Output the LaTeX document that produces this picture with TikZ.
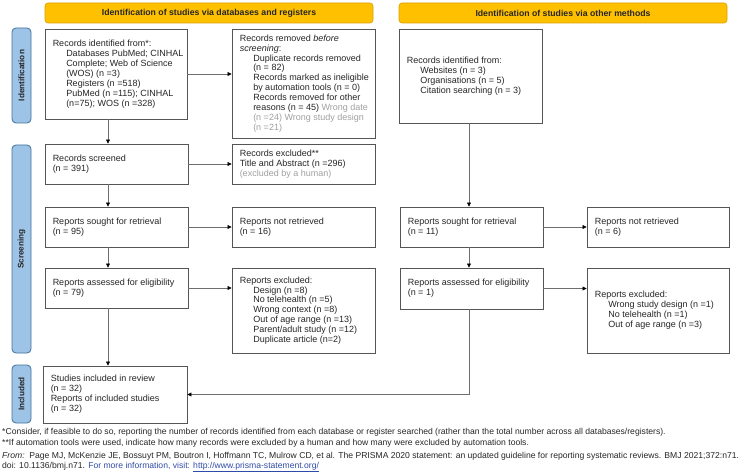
\documentclass[tikz,border=0pt]{standalone}
\usepackage{fontspec}
\setmainfont{Liberation Sans}
\usetikzlibrary{arrows.meta}
\definecolor{bannerfill}{HTML}{FFC000}
\definecolor{bannerline}{HTML}{D9A000}
\definecolor{sidefill}{HTML}{9DC3E6}
\definecolor{sideline}{HTML}{41719C}
\definecolor{boxline}{HTML}{555555}
\definecolor{connline}{HTML}{6E6E6E}
\definecolor{greytxt}{HTML}{A0A0A0}
\definecolor{linkblue}{HTML}{2F4BA8}
\newcommand{\ind}{\hspace*{13.5pt}}
\newcommand{\gtx}[1]{\textcolor{greytxt}{#1}}
\newcommand{\bx}[5]{%
  \node[box, minimum width=#3, minimum height=#4] (#1) at #2 {};
  \node[txt] (#1t) at ([xshift=8pt]#1.west) {#5};}
\begin{document}
\begin{tikzpicture}[x=1pt,y=-1pt,
  box/.style={draw=boxline, line width=0.9pt, fill=white, inner sep=0pt},
  txt/.style={anchor=west, align=left, inner sep=0pt, font=\fontsize{9}{9.9}\selectfont, text=black!85},
  banner/.style={draw=bannerline, fill=bannerfill, rounded corners=3pt, line width=0.6pt,
    font=\fontsize{8.7}{10}\selectfont\bfseries, minimum height=20pt, minimum width=328pt, inner sep=0pt, text=black!85},
  side/.style={draw=sideline, fill=sidefill, rounded corners=4pt, line width=0.8pt, rotate=90,
    font=\fontsize{8.2}{9}\selectfont\bfseries, minimum height=19pt, inner sep=0pt, text=black!85},
  conn/.style={draw=connline, line width=0.7pt, -{Triangle[length=4pt,width=4pt,color=black]}},
  foot/.style={anchor=west, inner sep=0pt, font=\fontsize{8.6}{9}\selectfont, text=black!85},
]
\useasboundingbox (0,0) rectangle (742,476);

% banners
\node[banner] (banL) at (209,13) {Identification of studies via databases and registers};
\node[banner] (banR) at (563,13) {Identification of studies via other methods};

% side labels
\node[side, minimum width=95pt] (sideId) at (21.5,75.5) {Identification};
\node[side, minimum width=208pt] (sideSc) at (21.5,249) {Screening};
\node[side, minimum width=58pt] (sideIn) at (21.5,394) {Included};

% column coordinates
\coordinate (colL) at (108,0);
\coordinate (colR) at (469,0);

% left column
\bx{b1}{(116,74)}{142pt}{90pt}
 {Records identified from*:\\
  \ind Databases PubMed; CINHAL\\
  \ind Complete; Web of Science\\
  \ind (WOS) (n =3)\\
  \ind Registers (n =518)\\
  \ind PubMed (n =115); CINHAL\\
  \ind (n=75); WOS (n =328)}
\bx{b2}{(303.5,83.5)}{143pt}{109pt}
 {Records removed \textit{before}\\
  \textit{screening}:\\
  \ind Duplicate records removed\\
  \ind (n = 82)\\
  \ind Records marked as ineligible\\
  \ind by automation tools (n = 0)\\
  \ind Records removed for other\\
  \ind reasons (n = 45) \gtx{Wrong date}\\
  \ind \gtx{(n =24) Wrong study design}\\
  \ind \gtx{(n =21)}}
\bx{scr}{(116.5,164)}{143pt}{40pt}
 {Records screened\\(n = 391)}
\bx{exc}{(303.5,164)}{143pt}{40pt}
 {Records excluded**\\Title and Abstract (n =296)\\\gtx{(excluded by a human)}}
\bx{sgt}{(116.5,227)}{143pt}{40pt}
 {Reports sought for retrieval\\(n = 95)}
\bx{nrt}{(303.5,227)}{143pt}{40pt}
 {Reports not retrieved\\(n = 16)}
\bx{ass}{(116.5,288)}{143pt}{40pt}
 {Reports assessed for eligibility\\(n = 79)}
\bx{rex}{(303.5,310.5)}{143pt}{85pt}
 {Reports excluded:\\
  \ind Design (n =8)\\
  \ind No telehealth (n =5)\\
  \ind Wrong context (n =8)\\
  \ind Out of age range (n =13)\\
  \ind Parent/adult study (n =12)\\
  \ind Duplicate article (n=2)}
\bx{inc}{(115,394.5)}{144pt}{57pt}
 {Studies included in review\\(n = 32)\\Reports of included studies\\(n = 32)}

% right column
\bx{r1}{(470.5,76)}{143pt}{94pt}
 {Records identified from:\\
  \ind Websites (n = 3)\\
  \ind Organisations (n = 5)\\
  \ind Citation searching (n = 3)}
\bx{sgtR}{(471.5,227)}{143pt}{40pt}
 {Reports sought for retrieval\\(n = 11)}
\bx{nrtR}{(658,227)}{142pt}{40pt}
 {Reports not retrieved\\(n = 6)}
\bx{assR}{(471.5,288.5)}{143pt}{41pt}
 {Reports assessed for eligibility\\(n = 1)}
\bx{rexR}{(658,310.5)}{142pt}{85pt}
 {Reports excluded:\\
  \ind Wrong study design (n =1)\\
  \ind No telehealth (n =1)\\
  \ind Out of age range (n =3)}

% connectors left
\draw[conn] (b1.east) -- (b1.east -| b2.west);
\draw[conn] (b1.south -| colL) -- (scr.north -| colL);
\draw[conn] (scr.east) -- (exc.west);
\draw[conn] (scr.south -| colL) -- (sgt.north -| colL);
\draw[conn] (sgt.east) -- (nrt.west);
\draw[conn] (sgt.south -| colL) -- (ass.north -| colL);
\draw[conn] (ass.east) -- (ass.east -| rex.west);
\draw[conn] (ass.south -| colL) -- (inc.north -| colL);

% connectors right
\draw[conn] (r1.south -| colR) -- (sgtR.north -| colR);
\draw[conn] (sgtR.east) -- (nrtR.west);
\draw[conn] (sgtR.south -| colR) -- (assR.north -| colR);
\draw[conn] (assR.east) -- (assR.east -| rexR.west);
\draw[conn] (assR.south -| colR) |- (inc.east);

% footnotes
\node[foot] (fn1) at (2,432) {*Consider, if feasible to do so, reporting the number of records identified from each database or register searched (rather than the total number across all databases/registers).};
\node[foot] (fn2) at (2,443) {**If automation tools were used, indicate how many records were excluded by a human and how many were excluded by automation tools.};
\node[foot] (fn3) at (2,456) {\textit{From:}\ \ Page MJ, McKenzie JE, Bossuyt PM, Boutron I, Hoffmann TC, Mulrow CD, et al. The PRISMA 2020 statement: an updated guideline for reporting systematic reviews. BMJ 2021;372:n71.};
\node[foot] (fn4) at (2,467) {doi: 10.1136/bmj.n71. \textcolor{linkblue}{For more information, visit: \underline{http://www.prisma-statement.org/}}};
\end{tikzpicture}
\end{document}
